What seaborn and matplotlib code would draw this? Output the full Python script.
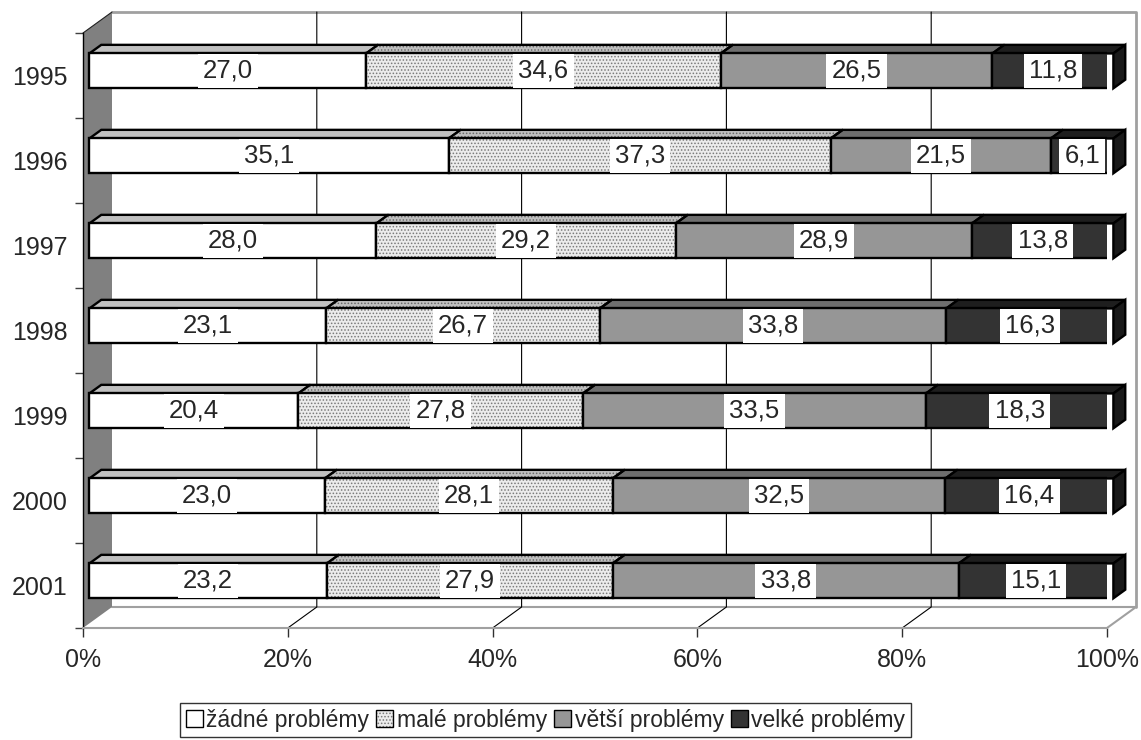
import numpy as np
import matplotlib
matplotlib.use("Agg")
import matplotlib.pyplot as plt
from matplotlib.patches import Polygon, Patch
from matplotlib.lines import Line2D
from matplotlib.transforms import ScaledTranslation
import seaborn as sns

# ---- data -------------------------------------------------------------
years = ["1995", "1996", "1997", "1998", "1999", "2000", "2001"]
categories = ["žádné problémy", "malé problémy", "větší problémy", "velké problémy"]
no_problems = [27.0, 35.1, 28.0, 23.1, 20.4, 23.0, 23.2]
small_problems = [34.6, 37.3, 29.2, 26.7, 27.8, 28.1, 27.9]
bigger_problems = [26.5, 21.5, 28.9, 33.8, 33.5, 32.5, 33.8]
big_problems = [11.8, 6.1, 13.8, 16.3, 18.3, 16.4, 15.1]
x_ticks = [0, 20, 40, 60, 80, 100]
x_tick_labels = ["0%", "20%", "40%", "60%", "80%", "100%"]

# ---- style ------------------------------------------------------------
sns.set_style("white")
plt.rcParams["font.family"] = ["Liberation Sans", "DejaVu Sans"]
plt.rcParams["hatch.linewidth"] = 0.7

FRONT = ["#ffffff", "#ececec", "#969696", "#333333"]
TOP = ["#c0c0c0", "#c0c0c0", "#6e6e6e", "#1e1e1e"]
HATCH = [None, ".....", None, None]
DOT_COLOR = "#7a7a7a"
EDGE_LW = 1.7

values = np.array([no_problems, small_problems, bigger_problems, big_problems])
shares = values / values.sum(axis=0) * 100          # 100 % stacked
lefts = np.vstack([np.zeros(len(years)), np.cumsum(shares, axis=0)[:-1]])
n = len(years)

W, H = 1141, 740
fig = plt.figure(figsize=(W / 100, H / 100), dpi=100)
ax = fig.add_axes([83 / W, 112 / H, 1024 / W, 595 / H])

# oblique depth of the 3-D box (inches, for full depth z = 1)
DEPTH_IN = (0.29, 0.21)
BAR_Z = (0.22, 0.63)      # front / back depth of the bars
BAR_H = 0.41              # bar thickness in category units


def shifted(z):
    return ax.transData + ScaledTranslation(z * DEPTH_IN[0], z * DEPTH_IN[1],
                                            fig.dpi_scale_trans)


# ---- bar front faces (seaborn) -----------------------------------------
front_tf = shifted(BAR_Z[0])
for k in range(4):
    common = dict(x=shares[k], y=years, order=years, orient="h", left=lefts[k],
                  width=BAR_H, errorbar=None, ax=ax, transform=front_tf, zorder=5)
    if HATCH[k]:
        sns.barplot(**common, color=FRONT[k], saturation=1, hatch=HATCH[k],
                    edgecolor=DOT_COLOR, linewidth=0)
        sns.barplot(**common, color="black", fill=False, linewidth=EDGE_LW)
    else:
        sns.barplot(**common, color=FRONT[k], saturation=1,
                    edgecolor="black", linewidth=EDGE_LW)

ax.set_xlim(0, 100)
ax.set_ylim(n - 0.5, -0.5)
ax.set_xlabel("")
ax.set_ylabel("")


def proj(x, y, z):
    disp = shifted(z).transform((x, y))
    return ax.transData.inverted().transform(disp)


def poly(points, **kw):
    p = Polygon([proj(*pt) for pt in points], closed=True, clip_on=False, **kw)
    ax.add_patch(p)
    return p


def line(points, **kw):
    pts = np.array([proj(*pt) for pt in points])
    ax.add_line(Line2D(pts[:, 0], pts[:, 1], clip_on=False, **kw))


y0, y1 = -0.5, n - 0.5
# back wall
poly([(0, y0, 1), (100, y0, 1), (100, y1, 1), (0, y1, 1)],
     facecolor="white", edgecolor="none", zorder=0.5)
line([(0, y0, 1), (100, y0, 1), (100, y1, 1)], color="#a0a0a0", lw=2, zorder=0.8)
# floor
poly([(0, y1, 0), (100, y1, 0), (100, y1, 1), (0, y1, 1)],
     facecolor="white", edgecolor="none", zorder=0.5)
line([(0, y1, 1), (100, y1, 1), (100, y1, 0)], color="#a0a0a0", lw=1.5, zorder=0.8)
# side wall
poly([(0, y1, 0), (0, y0, 0), (0, y0, 1), (0, y1, 1)],
     facecolor="#808080", edgecolor="none", zorder=1)
line([(0, y0, 0), (0, y0, 1)], color="#202020", lw=0.8, zorder=1.2)
# grid lines on floor and back wall
for xv in x_ticks[1:-1]:
    line([(xv, y1, 0), (xv, y1, 1), (xv, y0, 1)], color="black", lw=0.8, zorder=1)

# ---- bar top faces, end faces, labels -----------------------------------
za, zb = BAR_Z
for i in range(n):
    yt, yb = i - BAR_H / 2, i + BAR_H / 2
    for k in range(4):
        a = lefts[k][i]
        b = a + shares[k][i]
        pts = [(a, yt, za), (b, yt, za), (b, yt, zb), (a, yt, zb)]
        if HATCH[k]:
            poly(pts, facecolor=TOP[k], edgecolor="#6a6a6a", linewidth=0,
                 hatch=HATCH[k], zorder=4)
            poly(pts, fill=False, edgecolor="black", linewidth=EDGE_LW, zorder=4.1)
        else:
            poly(pts, facecolor=TOP[k], edgecolor="black", linewidth=EDGE_LW,
                 zorder=4)
        label = f"{values[k][i]:.1f}".replace(".", ",")
        ax.text(a + shares[k][i] / 2, i, label, transform=front_tf,
                ha="center", va="center", fontsize=18.5, zorder=10,
                bbox=dict(boxstyle="square,pad=0.2", facecolor="white",
                          edgecolor="none"))
    poly([(100, yt, za), (100, yb, za), (100, yb, zb), (100, yt, zb)],
         facecolor="#1a1a1a", edgecolor="black", linewidth=EDGE_LW, zorder=4)

# ---- axes -------------------------------------------------------------
for side in ("top", "right"):
    ax.spines[side].set_visible(False)
ax.spines["left"].set_color("black")
ax.spines["left"].set_linewidth(1.0)
ax.spines["left"].set_zorder(2)
ax.spines["bottom"].set_color("#a0a0a0")
ax.spines["bottom"].set_linewidth(1.5)
ax.patch.set_alpha(0)

ax.set_xticks(x_ticks, x_tick_labels)
ax.tick_params(axis="x", bottom=True, length=6.5, width=1, color="#303030",
               labelsize=18, pad=8)
ax.set_yticks(range(n), years)
ax.set_yticks(np.arange(n + 1) - 0.5, minor=True)
ax.tick_params(axis="y", which="major", left=True, length=0, labelsize=18, pad=11)
ax.tick_params(axis="y", which="minor", left=True, length=6, width=1,
               color="#404040")
ax.grid(False)

# ---- legend -----------------------------------------------------------
handles = []
for k in range(4):
    if HATCH[k]:
        handles.append((Patch(facecolor=FRONT[k], edgecolor=DOT_COLOR, linewidth=0,
                              hatch=HATCH[k]),
                        Patch(fill=False, edgecolor="black", linewidth=1)))
    else:
        handles.append(Patch(facecolor=FRONT[k], edgecolor="black", linewidth=1))
leg = fig.legend(handles, categories, loc="upper left",
                 bbox_to_anchor=(180 / W, 1 - 703 / H), ncol=4, frameon=True,
                 fancybox=False, edgecolor="black", fontsize=16.5,
                 handlelength=0.75, handleheight=0.75, handletextpad=0.15,
                 columnspacing=0.3, borderpad=0.25, borderaxespad=0)
leg.get_frame().set_linewidth(1.0)

fig.savefig("out.png", dpi=100)
